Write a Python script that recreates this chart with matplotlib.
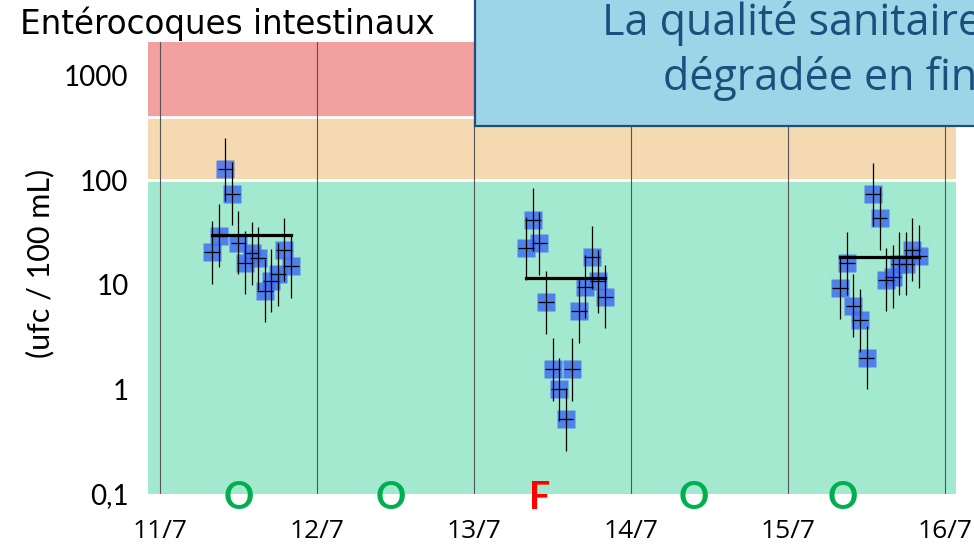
import matplotlib.pyplot as plt
import numpy as np
from matplotlib.patches import Rectangle

# sampling hours and results (ufc / 100 mL) for the three sampled days
hours = [8, 9, 10, 11, 12, 13, 14, 15, 16, 17, 18, 19, 20]
day_offsets = [0, 2, 4]
vals_11 = [20.4, 29.5, 128, 74, 25.4, 16.3, 20.1, 18, 8.8, 11, 12.6, 21.6, 15]
vals_13 = [22.4, 41.9, 25, 6.8, 1.56, 1.0, 0.52, 1.56, 5.6, 9.6, 18.4, 10.8, 7.7]
vals_15 = [9.4, 16.1, 6.3, 4.6, 2.0, 73.8, 43.5, 11.2, 12, 16, 16, 21.6, 18.7]
means = [30, 11.7, 18.6]
err_factor = 2

day_labels = ["11/7", "12/7", "13/7", "14/7", "15/7", "16/7"]
status_x = [0.5, 1.47, 2.42, 3.4, 4.35]
status = ["O", "O", "F", "O", "O"]
status_col = {"O": "#00b050", "F": "#ff0000"}

W, H = 974, 552
fig = plt.figure(figsize=(W / 100, H / 100), dpi=100)
ax = fig.add_axes([148 / W, 1 - 494 / H, (956 - 148) / W, 452 / H])
ax.set_yscale("log")
ax.set_xlim(-0.0764, 5.07)
ax.set_ylim(0.1, 2100)

# quality bands
ax.axhspan(0.1, 100, color="#a3e9cf", lw=0, zorder=0)
ax.axhspan(100, 400, color="#f4d9b1", lw=0, zorder=0)
ax.axhspan(400, 2100, color="#f2a0a0", lw=0, zorder=0)
ax.axhline(100, color="white", lw=2, zorder=1)
ax.axhline(400, color="white", lw=2, zorder=1)
for d in range(6):
    ax.axvline(d, color="#555555", lw=0.8, zorder=1)

for off, vals, m in zip(day_offsets, [vals_11, vals_13, vals_15], means):
    x = np.array([off + h / 24 for h in hours])
    y = np.array(vals)
    ax.plot(x, y, "s", ms=13, color="#3f6ff0", alpha=0.85, mec="none", zorder=2)
    ax.errorbar(x, y, yerr=[y - y / err_factor, y * err_factor - y], xerr=0.05,
                fmt="none", ecolor="black", elinewidth=0.9, capsize=0, zorder=3)
    ax.plot([x[0], x[-1]], [m, m], color="black", lw=2.3, zorder=4)

for s, sx in zip(status, status_x):
    ax.annotate(s, (sx, -0.009), xycoords=("data", "axes fraction"), ha="center", va="center",
                color=status_col[s], fontsize=27, fontweight="bold", family="Lato")

ax.set_xticks(range(6))
ax.set_xticklabels(day_labels, family="Open Sans", fontsize=19)
ax.set_yticks([0.1, 1, 10, 100, 1000])
ax.set_yticklabels(["0,1", "1", "10", "100", "1000"], family="Lato", fontsize=20)
ax.minorticks_off()
ax.tick_params(axis="x", length=0, pad=18)
ax.tick_params(axis="y", length=0, pad=14)
for sp in ax.spines.values():
    sp.set_visible(False)

ax.set_ylabel("(ufc / 100 mL)", family="Lato", fontsize=22)
ax.yaxis.set_label_coords(-0.116, 0.51)

fig.text(20 / W, 1 - 24 / H, "Entérocoques intestinaux", family="DejaVu Sans",
         fontsize=23.5, va="center", ha="left")

# comment box, cut by the right edge as in the original slide
fig.add_artist(Rectangle((475 / W, 1 - 126 / H), 0.6, 0.3, transform=fig.transFigure,
                         facecolor="#9dd4e7", edgecolor="#1f4e79", lw=1.6, zorder=10))
fig.text(602 / W, 1 - 35 / H, "La qualité sanitaire", family="Open Sans", fontsize=31,
         color="#1c4f7c", va="baseline", ha="left", zorder=11)
fig.text(663 / W, 1 - 90 / H, "dégradée en fin", family="Open Sans", fontsize=31,
         color="#1c4f7c", va="baseline", ha="left", zorder=11)

fig.savefig("out.png", dpi=100)
